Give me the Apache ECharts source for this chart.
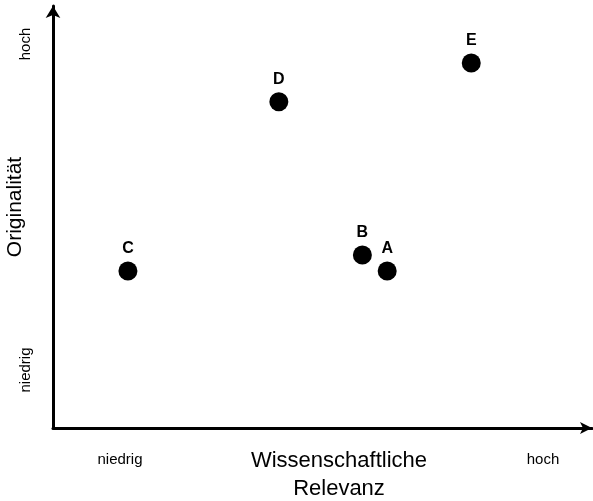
<!DOCTYPE html>
<html>
<head>
<meta charset="utf-8">
<script src="https://cdn.jsdelivr.net/npm/echarts@6/dist/echarts.min.js"></script>
<style>
html, body { margin: 0; padding: 0; background: #fff; }
#main { width: 593px; height: 501px; }
</style>
</head>
<body>
<div id="main"></div>
<script>
// Projekte
var names = ['A', 'B', 'C', 'D', 'E'];
var relevanz = [62, 57.4, 13.9, 41.9, 77.6];
var originalitaet = [37.2, 41, 37.2, 77.3, 86.5];
// Achsenbeschriftung
var xTicks = ['niedrig', 'hoch'];
var yTicks = ['niedrig', 'hoch'];
var xName = 'Wissenschaftliche\nRelevanz';
var yName = 'Originalität';

var points = [];
for (var i = 0; i < names.length; i++) {
	points.push({ name: names[i], value: [relevanz[i], originalitaet[i]] });
}

var font = 'Liberation Sans, Arial, sans-serif';
var chart = echarts.init(document.getElementById('main'));
var option = {
	animation: false,
	grid: { left: 53, right: 1, top: 6, bottom: 73 },
	xAxis: {
		type: 'value', min: 0, max: 100,
		splitLine: { show: false },
		axisTick: { show: false },
		axisLabel: { show: false },
		axisLine: { lineStyle: { color: '#000', width: 3 }, symbol: ['none', 'arrow'], symbolSize: [9, 12] }
	},
	yAxis: {
		type: 'value', min: 0, max: 100,
		splitLine: { show: false },
		axisTick: { show: false },
		axisLabel: { show: false },
		axisLine: { lineStyle: { color: '#000', width: 3 }, symbol: ['none', 'arrow'], symbolSize: [11, 12] }
	},
	graphic: [
		{ type: 'text', x: 120, y: 460, style: { text: xTicks[0], font: '15px ' + font, fill: '#000', align: 'center', verticalAlign: 'middle' } },
		{ type: 'text', x: 543, y: 460, style: { text: xTicks[1], font: '15px ' + font, fill: '#000', align: 'center', verticalAlign: 'middle' } },
		{ type: 'text', x: 26, y: 370, rotation: Math.PI / 2, style: { text: yTicks[0], font: '15px ' + font, fill: '#000', align: 'center', verticalAlign: 'middle' } },
		{ type: 'text', x: 26, y: 44, rotation: Math.PI / 2, style: { text: yTicks[1], font: '15px ' + font, fill: '#000', align: 'center', verticalAlign: 'middle' } },
		{ type: 'text', x: 339, y: 475, style: { text: xName, font: '22px ' + font, fill: '#000', align: 'center', verticalAlign: 'middle', lineHeight: 28 } },
		{ type: 'text', x: 15, y: 207, rotation: Math.PI / 2, style: { text: yName, font: '21px ' + font, fill: '#000', align: 'center', verticalAlign: 'middle' } }
	],
	series: [{
		type: 'scatter',
		symbolSize: 19,
		itemStyle: { color: '#000', opacity: 1 },
		label: {
			show: true, position: 'top', distance: 5,
			formatter: '{b}', color: '#000', fontSize: 16, fontWeight: 'bold', fontFamily: font
		},
		data: points
	}]
};
chart.setOption(option);
</script>
</body>
</html>
